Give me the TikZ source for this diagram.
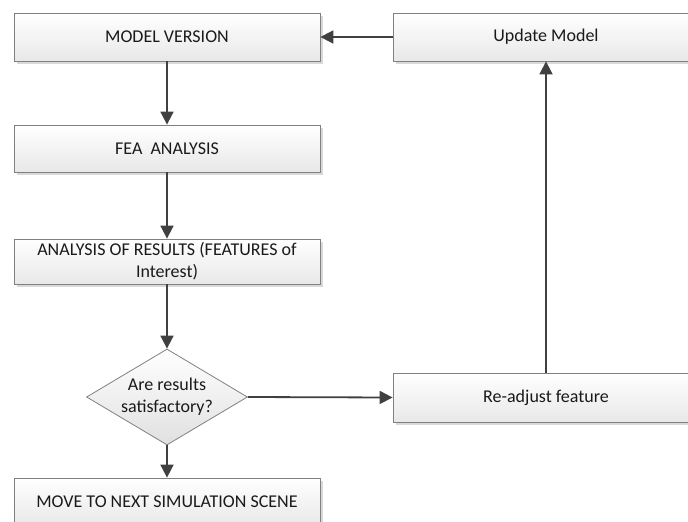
\documentclass[tikz,border=0pt]{standalone}
\usepackage{fontspec}
\setmainfont{Carlito}
\usetikzlibrary{arrows.meta,shadows,shapes.geometric}
\definecolor{edgegray}{HTML}{808080}
\definecolor{linkgray}{HTML}{404040}
\definecolor{txt}{HTML}{1A1A1A}
\tikzset{
  procbox/.style={rectangle, draw=edgegray, line width=0.8pt,
    top color=white, bottom color=black!9, text=txt,
    minimum width=306pt, align=center, inner sep=2pt,
    font=\fontsize{18}{22}\selectfont,
    drop shadow={shadow xshift=3pt, shadow yshift=-3pt, fill=black!15, opacity=1}},
  decide/.style={diamond, draw=edgegray, line width=0.8pt,
    top color=white, bottom color=black!12, text=txt,
    minimum width=161pt, minimum height=96pt, inner sep=0pt, aspect=1.68,
    align=center, font=\fontsize{18}{22}\selectfont},
  link/.style={draw=linkgray, line width=1.8pt,
    -{Triangle[length=13pt,width=13pt]}},
}
\begin{document}
\begin{tikzpicture}[x=1pt,y=-1pt]
  \useasboundingbox (0,0) rectangle (688,522);
  \clip (0,0) rectangle (688,522);
  \node[procbox, minimum height=48pt] (model) at (167,37) {MODEL VERSION};
  \node[procbox, minimum height=48pt] (update) at (546,37) {Update Model};
  \node[procbox, minimum height=47pt] (fea) at (167,148.5) {FEA~~ANALYSIS};
  \node[procbox, minimum height=45pt] (results) at (167,261.5)
    {ANALYSIS OF RESULTS (FEATURES of\\Interest)};
  \node[decide] (check) at (167,397) {Are results\\satisfactory?};
  \node[procbox, minimum height=49pt] (readjust) at (546,397.5) {Re-adjust feature};
  \node[procbox, minimum height=48pt] (move) at (167,502) {MOVE TO NEXT SIMULATION SCENE};

  \draw[link] (model.south) -- (fea.north);
  \draw[link] (fea.south) -- (results.north);
  \draw[link] (results.south) -- (check.north);
  \draw[link] (check.south) -- (move.north);
  \draw[link] (check.east) -- (readjust.west);
  \draw[link] (readjust.north) -- (update.south);
  \draw[link] (update.west) -- (model.east);
\end{tikzpicture}
\end{document}
